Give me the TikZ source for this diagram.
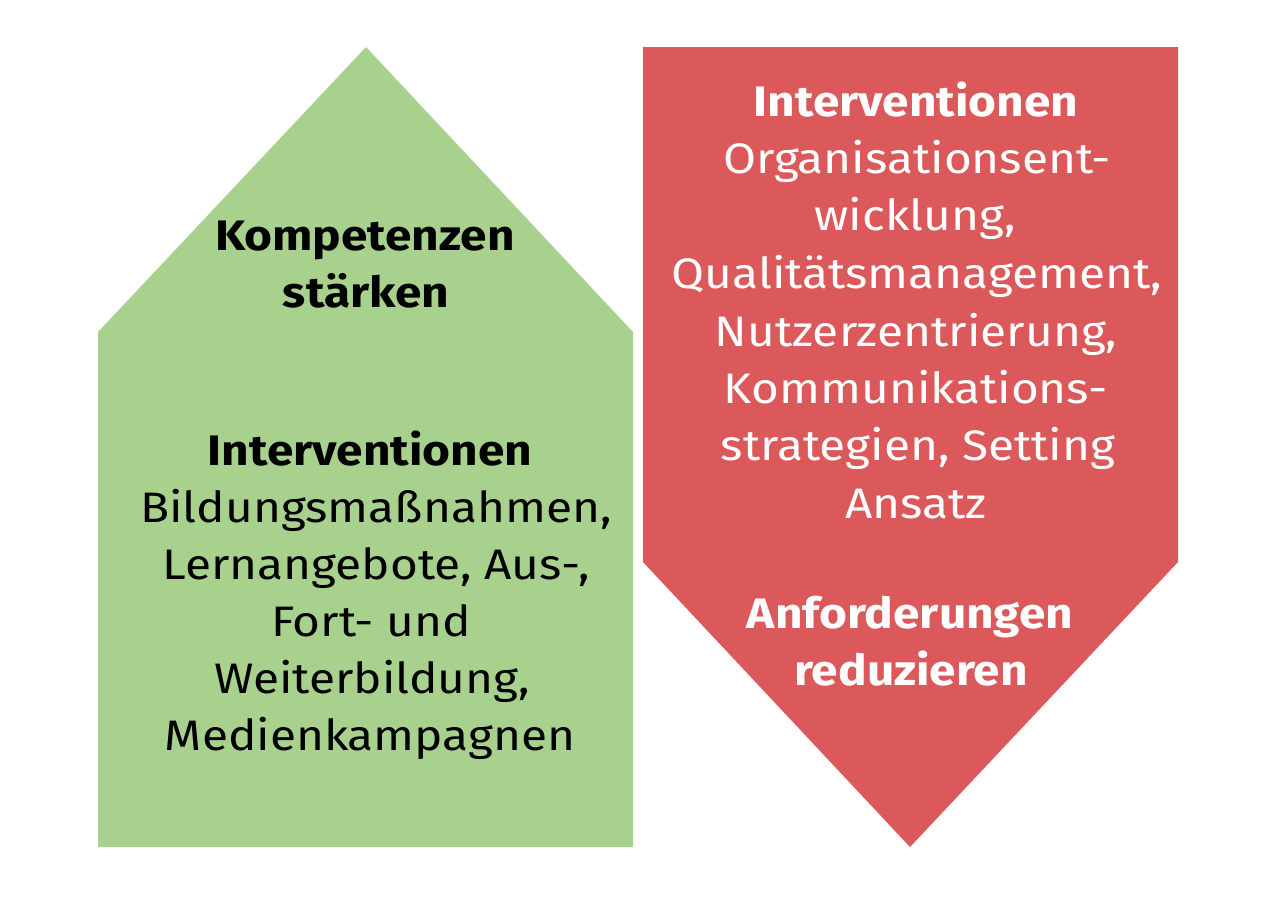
\documentclass[tikz,border=0pt]{standalone}
\usepackage{fontspec}
\setmainfont{Fira Sans}[FakeStretch=1.12]
\definecolor{grfill}{HTML}{A9D18E}
\definecolor{rdfill}{HTML}{DB595A}
\begin{document}
\begin{tikzpicture}[x=0.75pt,y=-0.75pt,
  txt/.style={inner sep=0pt,anchor=base,font=\fontsize{32}{38}\selectfont},
  btxt/.style={txt,font=\fontsize{32}{38}\selectfont\bfseries},
  gtxt/.style={text=black},
  rtxt/.style={text=white}]
\useasboundingbox (0,0) rectangle (1280,896);
% shapes
\fill[grfill] (98,847) -- (98,332) -- (366,47) -- (633,332) -- (633,847) -- cycle;
\fill[rdfill] (643,47) -- (1178,47) -- (1178,562) -- (910,847) -- (643,562) -- cycle;
% green texts
\node[btxt,gtxt] (g1) at (365,250) {Kompetenzen};
\node[btxt,gtxt] (g2) at (366,307) {stärken};
\node[btxt,gtxt] (g3) at (370,465) {Interventionen};
\node[txt,gtxt] (g4) at (376,522) {Bildungsmaßnahmen,};
\node[txt,gtxt] (g5) at (376,579) {Lernangebote, Aus-,};
\node[txt,gtxt] (g6) at (371,636) {Fort- und};
\node[txt,gtxt] (g7) at (372,693) {Weiterbildung,};
\node[txt,gtxt] (g8) at (370,750) {Medienkampagnen};
% red texts
\node[btxt,rtxt] (r1) at (916,116) {Interventionen};
\node[txt,rtxt] (r2) at (917,173) {Organisationsent-};
\node[txt,rtxt] (r3) at (915,230) {wicklung,};
\node[txt,rtxt] (r4) at (917,288) {Qualitätsmanagement,};
\node[txt,rtxt] (r5) at (916,346) {Nutzerzentrierung,};
\node[txt,rtxt] (r6) at (916,403) {Kommunikations-};
\node[txt,rtxt] (r7) at (918,460) {strategien, Setting};
\node[txt,rtxt] (r8) at (916,518) {Ansatz};
\node[btxt,rtxt] (r9) at (910,628) {Anforderungen};
\node[btxt,rtxt] (r10) at (911,685) {reduzieren};
\end{tikzpicture}
\end{document}
